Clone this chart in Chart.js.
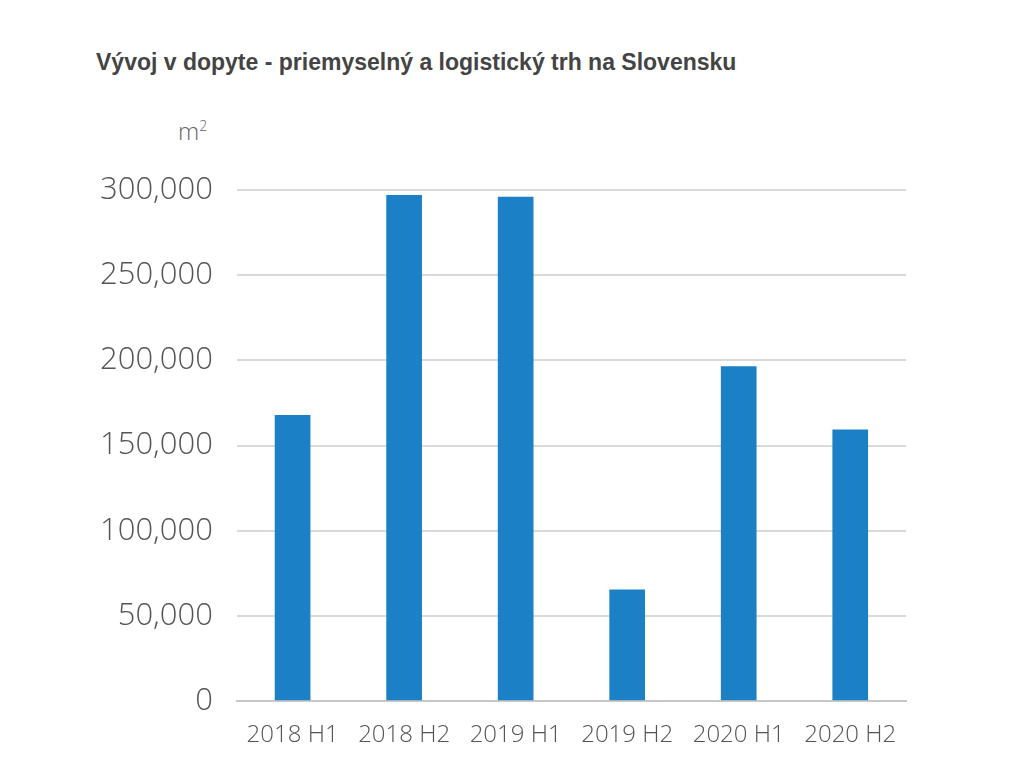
<!DOCTYPE html>
<html>
<head>
<meta charset="utf-8">
<script src="https://cdn.jsdelivr.net/npm/chart.js@4/dist/chart.umd.min.js"></script>
<style>
  body { margin: 0; background: #fff; }
  #wrap { position: relative; width: 1024px; height: 768px; }
  #title { position: absolute; left: 96px; top: 49px; font: bold 23px "Liberation Sans", Arial, sans-serif; color: #444; }
  #unit { position: absolute; left: 178px; top: 114px; font: 300 24px "Open Sans", sans-serif; color: #666; }
  #unit sup { font-size: 14px; }
  canvas { position: absolute; left: 0; top: 0; }
</style>
</head>
<body>
<div id="wrap">
  <div id="title">Vývoj v dopyte - priemyselný a logistický trh na Slovensku</div>
  <div id="unit">m<sup>2</sup></div>
  <canvas id="myChart" width="1024" height="768"></canvas>
</div>
<script>
const labels = ["2018 H1", "2018 H2", "2019 H1", "2019 H2", "2020 H1", "2020 H2"];
const values = [168000, 297000, 296000, 65500, 196500, 159500];

const config = {
    type: "bar",
    data: {
        labels,
        datasets: [{
            data: values,
            backgroundColor: "#1b80c6",
            barPercentage: 0.32,
            categoryPercentage: 1
        }]
    },
    options: {
        responsive: false,
        animation: false,
        layout: { padding: { left: 76, right: 118, top: 190, bottom: 6 } },
        scales: {
            y: {
                min: 0,
                max: 300000,
                ticks: {
                    stepSize: 50000,
                    color: "#555",
                    font: { family: "Open Sans", size: 31, weight: 300 },
                    padding: 24,
                    callback: v => v.toLocaleString("en-US")
                },
                grid: { color: "#d9d9d9", lineWidth: 2, drawTicks: false },
                border: { display: false }
            },
            x: {
                ticks: {
                    color: "#555",
                    font: { family: "Open Sans", size: 24, weight: 300 },
                    padding: 12
                },
                grid: { display: false },
                border: { color: "#c8c8c8", width: 2 }
            }
        },
        plugins: { legend: { display: false }, tooltip: { enabled: false } }
    }
};

new Chart(document.getElementById("myChart"), config);
</script>
</body>
</html>
